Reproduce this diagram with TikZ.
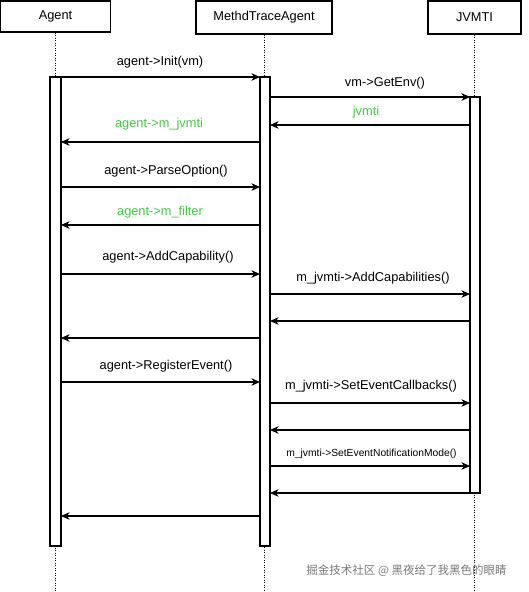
\documentclass[tikz,border=0pt]{standalone}
\usepackage{fontspec}
\setmainfont{Liberation Sans}
\newfontfamily\cjkfont{Noto Sans CJK SC}
\usetikzlibrary{arrows.meta}
\definecolor{msggreen}{RGB}{60,205,60}
\definecolor{markgray}{RGB}{120,120,120}

\begin{document}
\begin{tikzpicture}[x=1pt,y=-1pt,
  head/.style={draw,fill=white,line width=1.1pt,inner sep=0pt,font=\fontsize{12.8}{15}\selectfont},
  bar/.style={draw,fill=white,line width=1.1pt,inner sep=0pt,outer sep=0pt},
  life/.style={line width=0.9pt,dash pattern=on 1pt off 1.5pt},
  msg/.style={line width=1.1pt,-{Stealth[length=8.5pt,width=7.5pt,inset=2.5pt]}},
  lbl/.style={font=\fontsize{12.8}{15}\selectfont,inner sep=0pt}]
  \useasboundingbox (0,0) rectangle (528,592);
  % lifeline heads
  \node[head,minimum width=110pt,minimum height=31pt] (agent) at (55.5,16.5) {Agent};
  \node[head,minimum width=136pt,minimum height=33pt] (mta) at (264,17.5) {MethdTraceAgent};
  \node[head,minimum width=93pt,minimum height=33pt] (jvmti) at (474.5,17.5) {JVMTI};
  % lifelines
  \foreach \h in {agent,mta,jvmti}
    \draw[life] (\h.south) -- (\h.south |- 0,592);
  % activation bars
  \node[bar,minimum width=11pt,minimum height=469pt] (agentbar) at (55.5,311.5) {};
  \node[bar,minimum width=10pt,minimum height=469pt] (mtabar) at (265,311.5) {};
  \node[bar,minimum width=10pt,minimum height=396pt] (jvmtibar) at (475,295) {};
  % labelled messages
  \foreach \a/\b/\y/\lx/\ly/\t/\c in {
    agentbar.east/mtabar.west/77/160/62/{agent->Init(vm)}/black,
    mtabar.east/jvmtibar.west/97/385/83/{vm->GetEnv()}/black,
    jvmtibar.west/mtabar.east/125/366/112/{jvmti}/msggreen,
    mtabar.west/agentbar.east/142/159/124/{agent->m\_jvmti}/msggreen,
    agentbar.east/mtabar.west/187/166/171/{agent->ParseOption()}/black,
    mtabar.west/agentbar.east/225/160/212/{agent->m\_filter}/msggreen,
    agentbar.east/mtabar.west/274/168/257/{agent->AddCapability()}/black,
    mtabar.east/jvmtibar.west/294/373/278/{m\_jvmti->AddCapabilities()}/black,
    agentbar.east/mtabar.west/382/166/366/{agent->RegisterEvent()}/black,
    mtabar.east/jvmtibar.west/403/371/386/{m\_jvmti->SetEventCallbacks()}/black}
  {
    \draw[msg] (\a |- 0,\y) -- (\b |- 0,\y);
    \node[lbl,text=\c] (m\y) at (\lx,\ly) {\t};
  }
  \draw[msg] (mtabar.east |- 0,466) -- (jvmtibar.west |- 0,466);
  \node[inner sep=0pt,font=\fontsize{10.3}{12}\selectfont] (m466) at (371.5,454) {m\_jvmti->SetEventNotificationMode()};
  % plain returns
  \foreach \a/\b/\y in {
    jvmtibar.west/mtabar.east/321,
    mtabar.west/agentbar.east/338,
    jvmtibar.west/mtabar.east/430,
    jvmtibar.west/mtabar.east/493,
    mtabar.west/agentbar.east/516}
    \draw[msg] (\a |- 0,\y) -- (\b |- 0,\y);
  % watermark
  \node[inner sep=0pt,text=markgray,font=\cjkfont\fontsize{11.5}{14}\selectfont] (mark) at (406.5,571) {掘金技术社区 @ 黑夜给了我黑色的眼睛};
\end{tikzpicture}
\end{document}
